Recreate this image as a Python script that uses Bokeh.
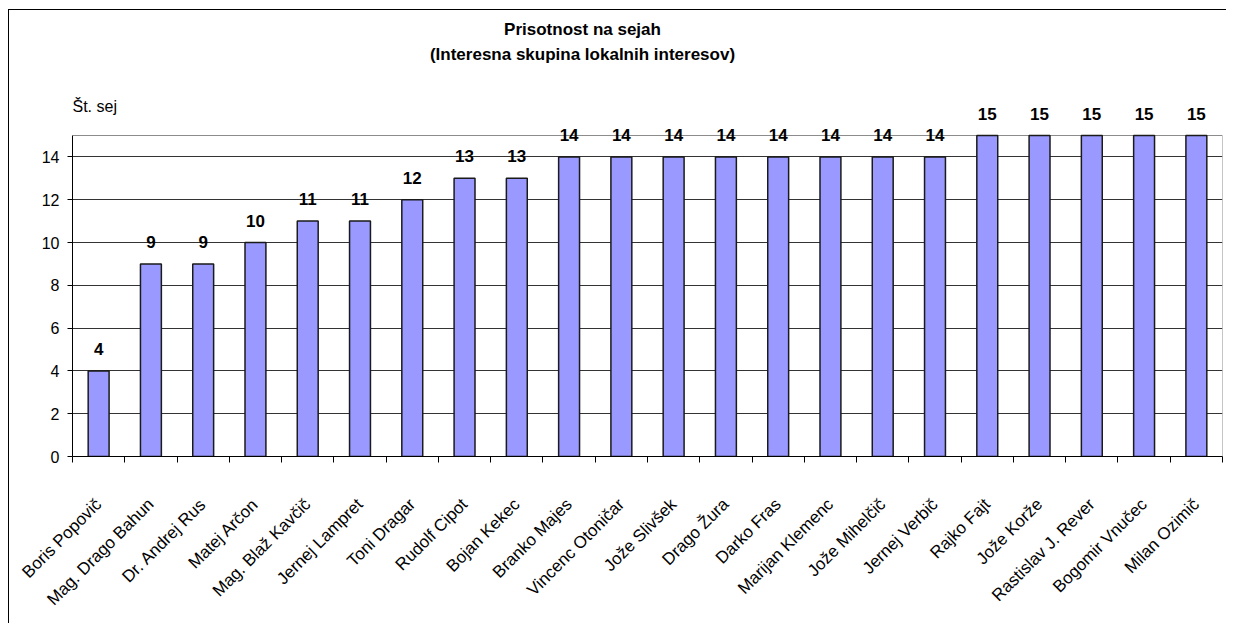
from bokeh.plotting import figure
from bokeh.models import Range1d, FixedTicker, ColumnDataSource, LabelSet, Label
from bokeh.core.properties import value
from bokeh.embed import file_html
from bokeh.resources import INLINE
import math

names = ["Boris Popovič", "Mag. Drago Bahun", "Dr. Andrej Rus", "Matej Arčon",
         "Mag. Blaž Kavčič", "Jernej Lampret", "Toni Dragar", "Rudolf Cipot",
         "Bojan Kekec", "Branko Majes", "Vincenc Otoničar", "Jože Slivšek",
         "Drago Žura", "Darko Fras", "Marijan Klemenc", "Jože Mihelčič",
         "Jernej Verbič", "Rajko Fajt", "Jože Korže", "Rastislav J. Rever",
         "Bogomir Vnučec", "Milan Ozimič"]
values = [4, 9, 9, 10, 11, 11, 12, 13, 13, 14, 14, 14, 14, 14, 14, 14, 14, 15, 15, 15, 15, 15]
y_ticks = [0, 2, 4, 6, 8, 10, 12, 14]
y_axis_max = 15
title_lines = ["Prisotnost na sejah", "(Interesna skupina lokalnih interesov)"]
y_title = "Št. sej"

FONT = "Liberation Sans"
n = len(names)
xs = [i + 0.5 for i in range(n)]

# layout (pixels)
W, H = 1218, 614
FRAME_H = 446          # frame spans full top area so texts are not clipped
AXIS_PX = 321          # pixel height of the 0..15 value axis
y_end = y_axis_max * FRAME_H / AXIS_PX

p = figure(width=W, height=H, output_backend="svg", toolbar_location=None,
           x_range=Range1d(0, n), y_range=Range1d(0, y_end),
           min_border_left=63, min_border_right=5, min_border_top=0,
           min_border_bottom=H - FRAME_H)
p.styles = {"margin-left": "8px", "margin-top": "9px",
            "border-left": "1px solid black", "border-top": "1px solid black"}
p.background_fill_color = "white"
p.border_fill_color = "white"
p.outline_line_color = None

# plot-area border (top and right, grey)
p.segment(x0=[0, n], y0=[y_axis_max, 0], x1=[n, n], y1=[y_axis_max, y_axis_max],
          line_color="#8c8c8c", line_width=1)

src = ColumnDataSource(dict(x=xs, top=values, label=[str(v) for v in values]))
p.vbar(x="x", top="top", bottom=0, width=0.4, source=src,
       fill_color="#9999FF", line_color="#1a1a1a", line_width=1.5)

labels = LabelSet(x="x", y="top", text="label", source=src, y_offset=16,
                  text_align="center", text_baseline="bottom",
                  text_font=value(FONT), text_font_style="bold", text_font_size="17px",
                  text_color="black")
p.add_layout(labels)

# x axis
xa = p.xaxis[0]
xa.ticker = FixedTicker(ticks=xs, minor_ticks=list(range(n + 1)))
xa.major_label_overrides = {x: nm for x, nm in zip(xs, names)}
xa.major_label_orientation = math.pi / 4
xa.major_tick_out = 0
xa.major_tick_in = 0
xa.minor_tick_out = 6
xa.minor_tick_in = 0
xa.minor_tick_line_color = "black"
xa.axis_line_color = "black"
xa.major_label_text_font = FONT
xa.major_label_text_font_size = "17px"
xa.major_label_text_color = "black"
xa.major_label_standoff = 39

ya = p.yaxis[0]
ya.ticker = FixedTicker(ticks=y_ticks)
ya.bounds = (0, y_axis_max)
ya.major_tick_out = 5
ya.major_tick_in = 0
ya.minor_tick_out = 0
ya.minor_tick_in = 0
ya.axis_line_color = "black"
ya.major_tick_line_color = "black"
ya.major_label_text_font = FONT
ya.major_label_text_font_size = "16px"
ya.major_label_text_color = "black"
ya.major_label_standoff = 8

p.xgrid.visible = False
p.ygrid.ticker = FixedTicker(ticks=y_ticks)
p.ygrid.grid_line_color = "#333333"
p.ygrid.grid_line_width = 1

p.add_layout(Label(x=510, y=FRAME_H - 19, x_units="screen", y_units="screen", text=title_lines[0],
                   text_align="center", text_baseline="middle", text_font=FONT,
                   text_font_style="bold", text_font_size="17px", text_color="black"))
p.add_layout(Label(x=510, y=FRAME_H - 44, x_units="screen", y_units="screen", text=title_lines[1],
                   text_align="center", text_baseline="middle", text_font=FONT,
                   text_font_style="bold", text_font_size="17px", text_color="black"))
p.add_layout(Label(x=0, y=FRAME_H - 96, x_units="screen", y_units="screen", text=y_title,
                   text_align="left", text_baseline="alphabetic", text_font=FONT,
                   text_font_size="16px", text_color="black"))

open("out.html", "w").write(file_html(p, INLINE))
